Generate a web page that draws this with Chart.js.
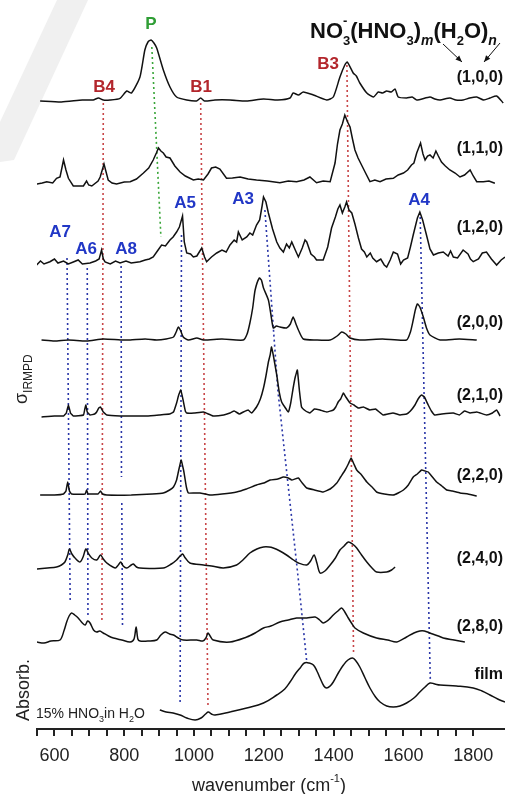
<!DOCTYPE html>
<html>
<head>
<meta charset="utf-8">
<script src="https://cdn.jsdelivr.net/npm/chart.js@4.4.0/dist/chart.umd.min.js"></script>
<style>
  html, body { margin: 0; padding: 0; background: #fff; overflow: hidden; }
</style>
</head>
<body>
<canvas id="irChart" width="505" height="794"></canvas>
<script>
// IRMPD spectra of NO3-(HNO3)m(H2O)n clusters, stacked, plus film absorbance

// spectra: [wavenumber, intensity above own baseline]
const spec100 = [[559,0],[620,-1],[680,1],[711,1],[726,3],[740,1],[759,1],[788,2.7],[807,10],[821,8],[845,24],[859,51],[868,59],[877,61],[885,58],[893,53],[912,31],[931,14],[950,4],[979,1],[1007,0],[1019,3],[1030,0],[1060,1],[1103,1],[1150,0],[1199,2],[1240,1],[1275,3],[1284,8],[1299,6],[1313,9],[1342,6],[1380,1],[1399,4],[1418,24],[1432,36],[1439,39],[1456,28],[1465,25],[1475,18],[1495,8],[1514,4],[1528,9],[1540,8],[1552,10],[1565,9],[1576,12],[1585,4],[1609,3],[1625,4],[1638,1],[1676,4],[1690,2],[1705,1],[1733,3],[1750,1],[1771,1],[1790,3],[1810,4],[1830,1],[1848,3],[1867,5],[1886,-2]];
const spec110 = [[549,0],[565,1],[578,2.3],[595,1],[606,5.7],[616,7],[626,24],[633,14],[640,5.7],[654,-2],[683,-2],[692,3],[698,-1],[707,-2],[725,3],[731,7],[742,20],[754,4],[765,1],[778,0],[800,2],[817,2.3],[835,5],[855,11],[870,16],[883,24],[892,31],[898,36],[905,33],[912,31],[920,27],[931,26],[945,18],[960,12],[975,8],[998,4],[1012,5],[1027,4],[1040,10],[1050,16],[1062,17],[1074,15],[1093,5.7],[1110,6],[1132,7],[1155,5],[1179,4],[1210,3],[1246,1.3],[1270,3],[1294,2.3],[1315,4],[1332,7],[1351,1.3],[1370,3],[1390,2.3],[1404,21],[1411,40],[1418,54],[1425,60],[1432,69],[1440,62],[1447,57],[1454,45],[1461,34],[1470,26],[1480,19],[1490,12],[1504,2.3],[1518,4],[1533,2.3],[1550,5],[1571,5.7],[1585,9],[1600,11],[1612,14],[1623,19],[1630,21],[1638,31],[1649,41],[1656,30],[1662,24],[1669,28],[1676,29],[1685,26],[1693,33],[1700,28],[1709,22],[1720,18],[1733,14],[1748,11],[1762,7],[1775,9],[1791,14],[1800,8],[1810,2.3],[1829,2.3],[1845,3],[1862,0.7]];
const spec120 = [[549,-3],[560,1],[570,-2],[587,0.3],[600,3],[610,-1],[626,1],[640,-2],[654,0],[668,2],[680,-2],[702,-1],[718,1],[728,3],[735,12],[740,3],[745,0],[760,-2],[775,1],[788,-1],[805,1],[820,-1],[845,0.3],[860,2],[872,3],[883,5],[895,11],[907,17],[918,16],[931,22],[940,25],[950,30],[958,35],[967,46],[972,20],[979,9],[990,8],[998,5],[1008,6],[1015,10],[1022,14],[1030,5],[1036,0.3],[1050,5],[1065,9],[1080,12],[1092,10],[1103,17],[1115,22],[1122,20],[1127,30],[1138,22],[1151,25],[1160,29],[1168,27],[1179,37],[1188,42],[1195,56],[1199,65],[1206,60],[1213,49],[1225,33],[1237,20],[1246,14],[1256,10],[1265,18],[1273,14],[1280,20],[1290,12],[1299,5],[1310,14],[1318,22],[1323,20],[1335,8],[1345,5],[1351,2],[1370,2],[1383,15],[1394,34],[1405,45],[1412,53],[1418,57],[1425,49],[1432,55],[1437,60],[1444,52],[1452,49],[1461,38],[1471,24],[1480,13],[1488,10],[1495,5],[1505,9],[1512,4],[1523,0.3],[1535,3],[1545,-3],[1552,-5],[1562,2],[1571,10],[1583,8],[1592,-2],[1600,2],[1612,4],[1620,15],[1628,27],[1640,44],[1647,50],[1655,42],[1666,27],[1676,13],[1686,7],[1700,9],[1714,10],[1728,6],[1735,11],[1743,5],[1755,4],[1771,12],[1785,8],[1792,3],[1800,0.3],[1815,3],[1826,9],[1838,10],[1852,3],[1867,-3],[1880,2],[1891,5]];
const spec200 = [[563,0],[600,-1],[640,0],[692,-1],[740,1],[790,0],[817,0],[860,1],[893,0],[920,1],[941,3],[950,9],[955,13],[962,9],[969,3],[984,0],[1008,2],[1027,0],[1080,1],[1141,0],[1152,6],[1160,17],[1168,32],[1175,50],[1187,62],[1193,60],[1199,52],[1213,40],[1220,26],[1227,12],[1236,14],[1246,13],[1265,12],[1276,16],[1284,23],[1292,16],[1299,10],[1313,1],[1350,0],[1390,0],[1410,4],[1423,8],[1435,6],[1447,2],[1475,0],[1540,1],[1609,0],[1620,8],[1628,20],[1634,30],[1640,36],[1647,33],[1657,23],[1666,12],[1676,5],[1705,0],[1760,1],[1810,0]];
const spec210 = [[563,0],[600,1],[626,1],[634,4],[640,12],[646,4],[654,1],[683,2],[687,8],[690,12],[694,5],[702,2],[715,3],[721,5],[727,9],[732,10],[740,5],[750,2],[788,1],[830,1],[864,1],[900,2],[930,3],[941,5],[950,14],[956,22],[962,27],[968,18],[975,6],[979,4],[1000,4],[1027,5],[1055,1],[1085,2],[1103,4],[1115,6],[1130,3],[1141,5],[1155,7],[1165,4],[1179,10],[1190,18],[1199,29],[1206,41],[1213,55],[1218,62],[1222,70],[1228,60],[1237,42],[1244,25],[1251,15],[1260,10],[1270,5],[1277,14],[1284,29],[1290,40],[1296,47],[1302,26],[1308,10],[1320,6],[1332,4],[1345,8],[1361,7],[1380,5],[1399,7],[1406,10],[1413,15],[1420,18],[1428,24],[1435,20],[1447,14],[1458,12],[1471,9],[1485,10],[1504,7],[1520,8],[1542,2],[1570,4],[1590,2],[1609,3],[1620,6],[1633,12],[1642,18],[1652,22],[1660,20],[1671,12],[1680,6],[1690,2],[1710,3],[1743,4],[1760,2],[1775,6],[1791,4],[1810,5],[1838,2],[1855,4],[1867,7],[1877,1]];
const spec220 = [[559,0],[600,0],[626,1],[633,4],[638,13],[643,4],[649,1],[688,1],[692,5],[696,1],[702,1],[725,1],[732,4],[738,1],[750,0],[820,0],[880,1],[912,2],[930,5],[941,8],[950,15],[955,23],[963,35],[968,28],[971,23],[978,8],[984,2],[1000,2],[1017,2],[1046,0],[1080,1],[1122,3],[1150,6],[1179,10],[1200,12],[1218,15],[1240,16],[1256,18],[1270,17],[1280,15],[1299,17],[1310,12],[1323,7],[1345,5],[1370,3],[1390,6],[1409,12],[1420,18],[1433,25],[1442,31],[1450,37],[1458,31],[1466,25],[1480,20],[1495,13],[1510,8],[1523,3],[1545,1],[1571,0],[1585,2],[1600,5],[1614,10],[1628,18],[1640,21],[1652,25],[1662,24],[1671,23],[1683,18],[1695,13],[1710,9],[1724,5],[1740,4],[1762,2],[1785,1],[1810,-1]];
const spec240 = [[549,0],[580,1],[606,2],[620,4],[630,7],[638,14],[643,20],[650,15],[659,11],[673,7],[682,12],[690,20],[698,15],[707,11],[721,9],[732,14],[740,10],[750,6],[774,1],[783,4],[790,7],[797,3],[807,1],[820,4],[826,5],[835,2],[845,1],[912,1],[935,5],[950,9],[960,13],[967,15],[975,11],[988,6],[1027,4],[1050,3],[1084,1],[1122,4],[1140,9],[1160,16],[1180,20],[1199,22],[1215,22],[1227,21],[1246,18],[1265,14],[1285,9],[1299,6],[1323,4],[1334,8],[1344,14],[1352,6],[1361,-4],[1375,-2],[1390,4],[1405,11],[1418,19],[1430,23],[1442,27],[1454,25],[1466,21],[1480,14],[1495,7],[1510,1],[1523,-3],[1552,-3],[1566,-1],[1576,2]];
const spec280 = [[549,0],[570,-1],[590,1],[616,2],[628,12],[635,20],[642,26],[649,29],[658,27],[668,24],[680,19],[688,17],[695,21],[702,19],[712,12],[721,10],[730,11],[740,9],[755,6],[769,4],[793,2],[817,0],[828,3],[834,15],[839,3],[845,1],[870,1],[893,2],[905,7],[917,10],[930,8],[941,7],[955,4],[969,2],[1008,2],[1025,1],[1034,4],[1040,9],[1046,6],[1055,2],[1103,0],[1151,5],[1175,9],[1199,14],[1220,16],[1246,20],[1270,22],[1294,24],[1323,24],[1347,25],[1360,22],[1370,19],[1385,22],[1399,27],[1412,31],[1423,34],[1432,30],[1442,24],[1451,19],[1461,14],[1485,9],[1523,4],[1555,2],[1581,0],[1609,5],[1630,9],[1647,11],[1660,11],[1676,9],[1700,6],[1714,4],[1745,2],[1776,0]];
const specFilm = [[902,-10],[920,-12],[940,-13],[960,-15],[979,-18],[1003,-20],[1020,-18],[1033,-14],[1041,-12],[1050,-14],[1060,-15],[1103,-12],[1151,-8],[1199,-3],[1237,5],[1260,11],[1275,18],[1292,27],[1304,32],[1316,37],[1330,37],[1342,35],[1352,29],[1361,22],[1372,14],[1380,12],[1390,14],[1399,18],[1415,28],[1428,35],[1441,40],[1454,42],[1464,39],[1475,33],[1490,22],[1504,12],[1520,3],[1533,-2],[1552,-6],[1571,-7],[1590,-6],[1609,-3],[1630,2],[1647,8],[1662,13],[1676,17],[1690,16],[1705,15],[1752,14],[1800,12],[1825,9],[1848,5],[1870,1],[1891,-2]];

// trace order, baseline level, line smoothing
const traceNames = ['(1,0,0)', '(1,1,0)', '(1,2,0)', '(2,0,0)', '(2,1,0)', '(2,2,0)', '(2,4,0)', '(2,8,0)', 'film'];
const traceData = [spec100, spec110, spec120, spec200, spec210, spec220, spec240, spec280, specFilm];
const traceOffsets = [628, 545, 467, 389, 312, 234, 160, 87, 29];
const traceTension = [0.2, 0, 0, 0.2, 0.1, 0.1, 0.3, 0.3, 0.4];

// dotted assignment guides: [wavenumber, level]
const guideP = [[879, 682], [905, 492]];
const guideB4 = [[740, 626], [736, 109]];
const guideB1 = [[1019, 626], [1040, 22]];
const guideB3 = [[1438, 664], [1457, 76]];
const guideA7 = [[636, 471], [645, 129]];
const guideA6 = [[694, 461], [696, 112]];
const guideA8a = [[791, 463], [792, 252]];
const guideA8b = [[793, 226], [795, 102]];
const guideA5 = [[964, 494], [960, 24]];
const guideA3 = [[1203, 519], [1240, 339], [1299, 149], [1323, 67]];
const guideA4 = [[1648, 512], [1677, 49]];

const xTicks = [600, 800, 1000, 1200, 1400, 1600, 1800];

const FONT = '"Liberation Sans", Arial, sans-serif';
const GREEN = '#2f9e35';
const RED = '#b3262c';
const BLUE = '#2137c6';

const toXY = (arr, off) => arr.map(p => ({ x: p[0], y: p[1] + (off || 0) }));

const datasets = [];
traceData.forEach((arr, i) => {
    datasets.push({
        label: traceNames[i],
        data: toXY(arr, traceOffsets[i]),
        borderColor: '#111',
        borderWidth: 1.5,
        pointRadius: 0,
        tension: traceTension[i],
        order: 1
    });
});

function guide(data, color) {
    return {
        data: toXY(data),
        borderColor: color,
        borderWidth: 1.6,
        borderDash: [2, 3],
        pointRadius: 0,
        tension: 0,
        order: 2
    };
}
datasets.push(guide(guideP, '#3aa63a'));
[guideB4, guideB1, guideB3].forEach(g => datasets.push(guide(g, '#c84548')));
[guideA7, guideA6, guideA8a, guideA8b, guideA5, guideA3, guideA4].forEach(g => datasets.push(guide(g, '#2a36a8')));

// draw text pieces left to right, with sub/superscripts
function richText(ctx, x, y, parts) {
    let cx = x;
    parts.forEach(p => {
        ctx.font = p.f;
        ctx.fillText(p.t, cx, y + (p.dy || 0));
        if (!p.keep) cx += ctx.measureText(p.t).width;
    });
}

const annotations = {
    id: 'annotations',
    beforeDraw(chart) {
        const ctx = chart.ctx;
        ctx.save();
        ctx.fillStyle = '#fff';
        ctx.fillRect(0, 0, chart.width, chart.height);
        // faint watermark stripe
        ctx.fillStyle = '#f0f0f0';
        ctx.beginPath();
        ctx.moveTo(57, 0); ctx.lineTo(88, 0); ctx.lineTo(14, 160); ctx.lineTo(0, 162); ctx.lineTo(0, 122);
        ctx.closePath();
        ctx.fill();
        ctx.restore();
    },
    afterDraw(chart) {
        const ctx = chart.ctx;
        ctx.save();
        ctx.textBaseline = 'alphabetic';
        ctx.textAlign = 'left';

        // series formula
        ctx.fillStyle = '#111';
        const big = 'bold 22px ' + FONT, sm = 'bold 13px ' + FONT, it = 'italic bold 14px ' + FONT;
        richText(ctx, 310, 38, [
            { t: 'NO', f: big },
            { t: '-', f: sm, dy: -13, keep: true },
            { t: '3', f: sm, dy: 7 },
            { t: '(HNO', f: big },
            { t: '3', f: sm, dy: 7 },
            { t: ')', f: big },
            { t: 'm', f: it, dy: 7 },
            { t: '(H', f: big },
            { t: '2', f: sm, dy: 7 },
            { t: 'O)', f: big },
            { t: 'n', f: it, dy: 7 }
        ]);

        // arrows from m and n to (1,0,0)
        function arrow(x1, y1, x2, y2) {
            ctx.strokeStyle = '#111';
            ctx.fillStyle = '#111';
            ctx.lineWidth = 1;
            ctx.beginPath(); ctx.moveTo(x1, y1); ctx.lineTo(x2, y2); ctx.stroke();
            const a = Math.atan2(y2 - y1, x2 - x1);
            ctx.beginPath();
            ctx.moveTo(x2, y2);
            ctx.lineTo(x2 - 7 * Math.cos(a - 0.4), y2 - 7 * Math.sin(a - 0.4));
            ctx.lineTo(x2 - 7 * Math.cos(a + 0.4), y2 - 7 * Math.sin(a + 0.4));
            ctx.closePath(); ctx.fill();
        }
        arrow(443, 44, 462, 62);
        arrow(500, 43, 484, 62);

        // cluster labels on the right
        ctx.fillStyle = '#111';
        ctx.font = 'bold 16px ' + FONT;
        ctx.textAlign = 'right';
        ctx.textBaseline = 'middle';
        const labelY = [78, 149, 228, 323, 396, 476, 559, 627, 675];
        traceNames.forEach((n, i) => ctx.fillText(n, 503, labelY[i]));

        // band labels
        ctx.textAlign = 'center';
        ctx.font = 'bold 17px ' + FONT;
        ctx.fillStyle = GREEN;
        ctx.fillText('P', 151, 24);
        ctx.fillStyle = RED;
        ctx.fillText('B4', 104, 87);
        ctx.fillText('B1', 201, 87);
        ctx.fillText('B3', 328, 64);
        ctx.fillStyle = BLUE;
        ctx.fillText('A7', 60, 232);
        ctx.fillText('A6', 86, 249);
        ctx.fillText('A8', 126, 249);
        ctx.fillText('A5', 185, 203);
        ctx.fillText('A3', 243, 199);
        ctx.fillText('A4', 419, 200);

        // film sample note
        ctx.fillStyle = '#222';
        ctx.textAlign = 'left';
        ctx.textBaseline = 'alphabetic';
        richText(ctx, 36, 718, [
            { t: '15% HNO', f: '14px ' + FONT },
            { t: '3', f: '9px ' + FONT, dy: 4 },
            { t: 'in H', f: '14px ' + FONT },
            { t: '2', f: '9px ' + FONT, dy: 4 },
            { t: 'O', f: '14px ' + FONT }
        ]);

        // x axis title
        ctx.fillStyle = '#222';
        const tf = '18px ' + FONT, sf = '11px ' + FONT;
        ctx.font = tf;
        let w = ctx.measureText('wavenumber (cm').width + ctx.measureText(')').width;
        ctx.font = sf;
        w += ctx.measureText('-1').width;
        richText(ctx, 269 - w / 2, 791, [
            { t: 'wavenumber (cm', f: tf },
            { t: '-1', f: sf, dy: -9 },
            { t: ')', f: tf }
        ]);

        // rotated y labels
        ctx.save();
        ctx.translate(27, 404);
        ctx.rotate(-Math.PI / 2);
        richText(ctx, 0, 0, [
            { t: '\u03c3', f: '18px ' + FONT },
            { t: 'IRMPD', f: '12px ' + FONT, dy: 5 }
        ]);
        ctx.restore();
        ctx.save();
        ctx.translate(29, 690);
        ctx.rotate(-Math.PI / 2);
        ctx.textAlign = 'center';
        ctx.font = '18px ' + FONT;
        ctx.fillText('Absorb.', 0, 0);
        ctx.restore();

        ctx.restore();
    }
};

new Chart(document.getElementById('irChart'), {
    type: 'line',
    data: { datasets },
    options: {
        responsive: false,
        animation: false,
        layout: { padding: { left: 37, right: 0, top: 0, bottom: 0 } },
        plugins: { legend: { display: false }, tooltip: { enabled: false } },
        scales: {
            x: {
                type: 'linear',
                min: 550,
                max: 1891,
                afterBuildTicks: s => { s.ticks = s.ticks.filter(t => t.value % 50 === 0); },
                afterFit: s => { s.height = 65; },
                ticks: {
                    stepSize: 50,
                    autoSkip: false,
                    maxRotation: 0,
                    padding: 9,
                    color: '#222',
                    font: { family: FONT, size: 18 },
                    callback: v => xTicks.includes(v) ? String(v) : ''
                },
                grid: { drawOnChartArea: false, drawTicks: true, tickLength: 7, color: '#222', lineWidth: 2 },
                border: { display: true, color: '#222', width: 2 }
            },
            y: {
                display: false,
                min: 0,
                max: 729
            }
        }
    },
    plugins: [annotations]
});
</script>
</body>
</html>
